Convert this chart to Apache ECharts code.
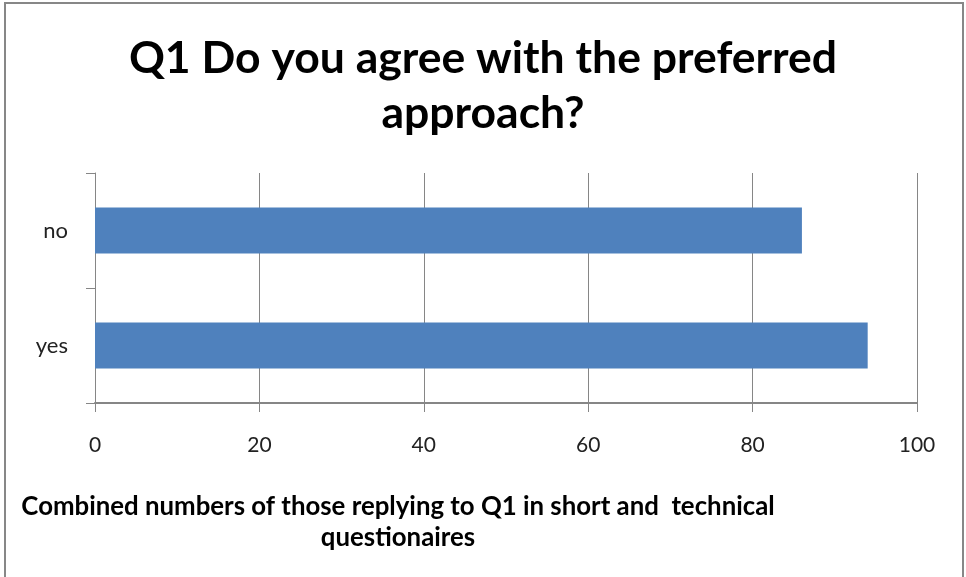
<!DOCTYPE html>
<html>
<head>
<meta charset="utf-8">
<script src="https://cdn.jsdelivr.net/npm/echarts@6/dist/echarts.min.js"></script>
<style>
html,body{margin:0;padding:0;background:#fff;}
#chart{width:966px;height:577px;}
</style>
</head>
<body>
<div id="chart"></div>
<script>
const categories = ['yes', 'no'];
const values = [94, 86];
const xTicks = [0, 20, 40, 60, 80, 100];
const titleText = 'Q1 Do you agree with the preferred\napproach?';
const axisTitle = 'Combined numbers of those replying to Q1 in short and  technical\nquestionaires';

const chart = echarts.init(document.getElementById('chart'));
const FONT = 'Lato';
chart.setOption({
  backgroundColor: '#ffffff',
  animation: false,
  title: {
    text: titleText,
    left: 'center',
    top: 26,
    textStyle: { fontFamily: FONT, fontWeight: 'bold', fontSize: 44.5, lineHeight: 55, color: '#000' }
  },
  grid: { left: 95, right: 49, top: 173, bottom: 174, containLabel: false },
  xAxis: {
    type: 'value',
    min: xTicks[0],
    max: xTicks[xTicks.length - 1],
    interval: 20,
    axisLine: { show: true, lineStyle: { color: '#868686', width: 2 } },
    axisTick: { show: true, length: 9, lineStyle: { color: '#868686' } },
    splitLine: { show: true, lineStyle: { color: '#868686', width: 1 } },
    axisLabel: { fontFamily: FONT, fontSize: 21, color: '#222', margin: 32 }
  },
  yAxis: {
    type: 'category',
    data: categories,
    axisLine: { show: true, lineStyle: { color: '#868686', width: 1 } },
    axisTick: { show: true, length: 9, lineStyle: { color: '#868686' } },
    axisLabel: { fontFamily: FONT, fontSize: 22, color: '#222', margin: 27 }
  },
  series: [{
    type: 'bar',
    data: values,
    barCategoryGap: '60%',
    itemStyle: { color: '#4F81BD' }
  }],
  graphic: [
    {
      type: 'rect',
      shape: { x: 5, y: 3, width: 958, height: 620 },
      style: { fill: 'none', stroke: '#878787', lineWidth: 2 },
      silent: true
    },
    {
      type: 'text',
      x: 398,
      y: 491,
      style: {
        text: axisTitle,
        fontFamily: FONT,
        fontWeight: 'bold',
        fontSize: 25.8,
        lineHeight: 31,
        fill: '#000',
        align: 'center',
        verticalAlign: 'top'
      }
    }
  ]
});
</script>
</body>
</html>
